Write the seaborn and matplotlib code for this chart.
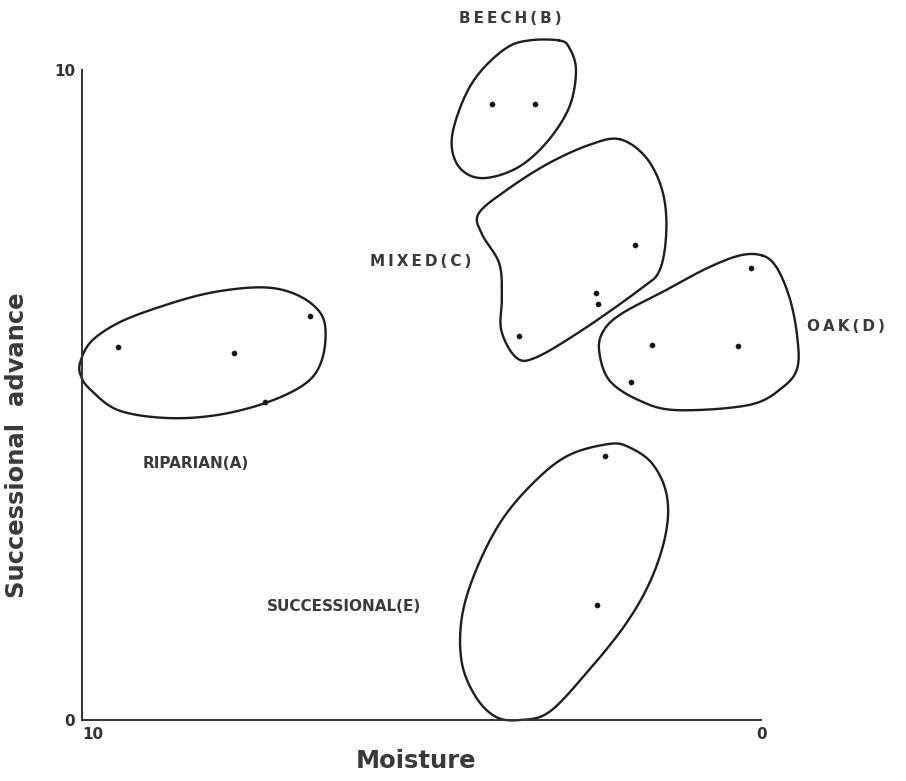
import numpy as np
import pandas as pd
import matplotlib
matplotlib.use('Agg')
import matplotlib.pyplot as plt
import seaborn as sns

# ── Data ──────────────────────────────────────────────
# sample points (moisture, successional advance)
riparian_pts_x = [9.47, 7.76, 6.64, 7.30]
riparian_pts_y = [5.74, 5.65, 6.22, 4.89]
beech_pts_x = [3.97, 3.33]
beech_pts_y = [9.48, 9.48]
mixed_pts_x = [1.86, 2.43, 2.40, 3.57]
mixed_pts_y = [7.31, 6.57, 6.40, 5.91]
oak_pts_x = [0.15, 1.61, 0.35, 1.92]
oak_pts_y = [6.95, 5.78, 5.75, 5.20]
succ_pts_x = [2.30, 2.42]
succ_pts_y = [4.06, 1.77]

# hand drawn group boundaries (vertices)
riparian_x = [10.03, 9.87, 9.47, 8.88, 8.14, 7.40, 6.92, 6.56, 6.42, 6.47, 6.71, 7.30, 8.04, 8.78, 9.47, 9.87, 10.01]
riparian_y = [5.49, 5.82, 6.11, 6.35, 6.57, 6.66, 6.58, 6.35, 6.05, 5.54, 5.18, 4.88, 4.69, 4.65, 4.77, 5.08, 5.28]
beech_x = [2.98, 3.42, 3.76, 4.16, 4.41, 4.56, 4.45, 4.12, 3.61, 3.17, 2.83, 2.73, 2.83]
beech_y = [10.46, 10.46, 10.34, 9.95, 9.49, 8.92, 8.51, 8.34, 8.49, 8.88, 9.43, 10.0, 10.35]
mixed_x = [2.09, 2.54, 3.13, 3.72, 4.16, 4.12, 3.86, 3.82, 3.83, 3.61, 3.32, 2.64, 1.80, 1.50, 1.40, 1.46, 1.70]
mixed_y = [8.94, 8.85, 8.57, 8.18, 7.80, 7.49, 7.03, 6.51, 6.00, 5.58, 5.58, 6.00, 6.62, 6.92, 7.54, 8.15, 8.66]
oak_x = [-0.01, 0.32, 0.81, 1.40, 2.05, 2.32, 2.39, 2.24, 1.80, 1.25, 0.18, -0.31, -0.53, -0.52, -0.41, -0.22]
oak_y = [7.15, 7.15, 6.95, 6.62, 6.26, 6.00, 5.69, 5.23, 4.92, 4.77, 4.85, 5.12, 5.43, 5.95, 6.51, 6.97]
succ_x = [2.24, 2.83, 3.32, 3.82, 4.20, 4.41, 4.41, 4.20, 3.91, 3.57, 3.13, 2.58, 1.99, 1.61, 1.40, 1.40, 1.61, 1.95]
succ_y = [4.25, 4.08, 3.69, 3.08, 2.31, 1.58, 0.88, 0.35, 0.05, 0.00, 0.12, 0.72, 1.49, 2.20, 2.92, 3.49, 3.95, 4.20]

group_names = ['RIPARIAN(A)', 'BEECH(B)', 'MIXED(C)', 'OAK(D)', 'SUCCESSIONAL(E)']
label_x = [8.33, 3.69, 5.01, -1.25, 6.14]
label_y = [3.95, 10.80, 7.05, 6.05, 1.75]
label_spaced = [False, True, True, True, False]

points = pd.concat([
    pd.DataFrame({'group': g, 'Moisture': x, 'Advance': y})
    for g, x, y in zip(group_names,
                       [riparian_pts_x, beech_pts_x, mixed_pts_x, oak_pts_x, succ_pts_x],
                       [riparian_pts_y, beech_pts_y, mixed_pts_y, oak_pts_y, succ_pts_y])
], ignore_index=True)

outlines = [(riparian_x, riparian_y), (beech_x, beech_y), (mixed_x, mixed_y),
            (oak_x, oak_y), (succ_x, succ_y)]


def smooth_closed(xs, ys, n=16):
    # closed Catmull-Rom curve through the boundary vertices
    pts = np.column_stack([xs, ys])
    P = np.vstack([pts[-1], pts, pts[0], pts[1]])
    t = np.linspace(0, 1, n, endpoint=False)[:, None]
    segs = []
    for i in range(1, len(pts) + 1):
        p0, p1, p2, p3 = P[i - 1], P[i], P[i + 1], P[i + 2]
        segs.append(0.5 * (2 * p1 + (-p0 + p2) * t
                           + (2 * p0 - 5 * p1 + 4 * p2 - p3) * t ** 2
                           + (-p0 + 3 * p1 - 3 * p2 + p3) * t ** 3))
    segs.append(pts[:1])
    return np.vstack(segs)


# ── Plot ──────────────────────────────────────────────
sns.set_style('white')
plt.rcParams['font.family'] = ['DejaVu Sans']

fig = plt.figure(figsize=(9.06, 7.81), dpi=100)
ax = fig.add_axes([0.0905, 0.078, 0.750, 0.832])

for xs, ys in outlines:
    c = smooth_closed(xs, ys)
    sns.lineplot(x=c[:, 0], y=c[:, 1], sort=False, estimator=None,
                 color='#1e1e1e', linewidth=1.7, ax=ax, clip_on=False)

sns.scatterplot(data=points, x='Moisture', y='Advance', color='#111111',
                s=14, edgecolor=None, legend=False, ax=ax, clip_on=False)

for name, lx, ly, sp in zip(group_names, label_x, label_y, label_spaced):
    txt = '\u2009'.join(name) if sp else name
    ax.text(lx, ly, txt, ha='center', va='center', fontsize=11,
            fontweight='bold', color='#3a3a3a', clip_on=False)

ax.set_xlim(10, 0)
ax.set_ylim(0, 10)
ax.set_xticks(range(11))
ax.set_yticks(range(11))
ax.set_xticklabels(['0'] + [''] * 9 + ['10'])
ax.set_yticklabels(['0'] + [''] * 9 + ['10'])
ax.tick_params(direction='in', length=7, width=1.2, colors='#333333',
               labelsize=11, pad=5)
for lab in ax.get_xticklabels() + ax.get_yticklabels():
    lab.set_fontweight('bold')
ax.get_xticklabels()[-1].set_horizontalalignment('left')

sns.despine(ax=ax)
for side in ['left', 'bottom']:
    ax.spines[side].set_linewidth(1.4)
    ax.spines[side].set_color('#333333')

ax.set_xlabel('Moisture', fontsize=17.5, fontweight='bold', color='#3a3a3a')
ax.set_ylabel('Successional  advance', fontsize=17.5, fontweight='bold', color='#3a3a3a')
ax.xaxis.set_label_coords(0.492, -0.045)
ax.yaxis.set_label_coords(-0.078, 0.423)

fig.savefig('out.png', dpi=100, facecolor='white')
